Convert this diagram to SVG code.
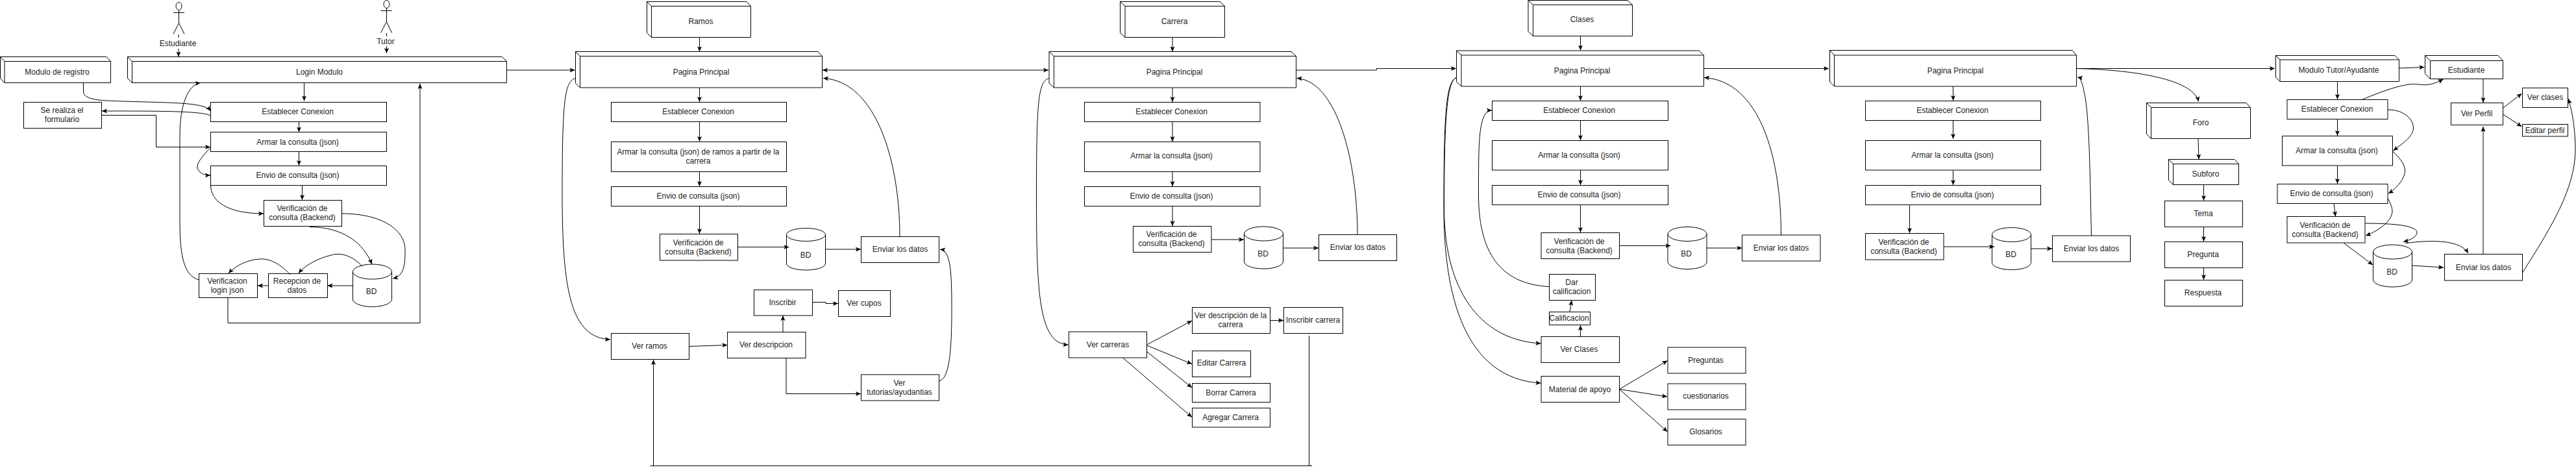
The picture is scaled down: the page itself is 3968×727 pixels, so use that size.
<svg xmlns="http://www.w3.org/2000/svg" width="3968" height="727" viewBox="0 0 3968 727">
<style>
text{font-family:"Liberation Sans",Arial,sans-serif;font-size:12px;fill:#222;text-anchor:middle}
rect,.c,ellipse{fill:#fff;stroke:#000;stroke-width:1}
.o{fill:none;stroke:#000;stroke-width:1}
#connectors path{fill:none;stroke:#000;stroke-width:1;marker-end:url(#a)}
#connectors path.n{marker-end:none}
#connectors path.b{marker-start:url(#a)}
</style>
<defs>
<marker id="a" markerUnits="userSpaceOnUse" markerWidth="10" markerHeight="10" refX="8" refY="4" orient="auto-start-reverse"><path d="M0,0.5 L8,4 L0,7.5 L1.75,4 Z" fill="#000"/></marker>
</defs>
<rect x="0" y="0" width="3968" height="727" style="stroke:none"/>

<g id="actor-estudiante"><ellipse cx="275.5" cy="9.5" rx="4.5" ry="6"/><path class="o" d="M267,19.5H284M275.5,15.5V35.5L267,52.5M275.5,35.5L284,52.5"/><text x="274" y="70.5">Estudiante</text></g>
<g id="actor-tutor"><ellipse cx="595.5" cy="6.5" rx="4.5" ry="6"/><path class="o" d="M586.5,16.5H603.5M595.5,12.5V33.5L586.5,50.5M595.5,33.5L603.5,50.5"/><text x="594" y="67.5">Tutor</text></g>

<g id="modulo-registro"><path class="c" d="M0.5,87.5H164L170.5,94.5V127.5H7L0.5,120.5Z"/><path class="o" d="M0.5,87.5L7,94.5H170.5M7,94.5V127.5"/><text x="88" y="114.5">Modulo de registro</text></g>
<g id="login"><path class="c" d="M196.5,87.5H773.5L780.5,94.5V127.5H203.5L196.5,120.5Z"/><path class="o" d="M196.5,87.5L203.5,94.5H780.5M203.5,94.5V127.5"/><text x="492" y="114.5">Login Modulo</text></g>
<g id="formulario"><rect x="36.5" y="157.5" width="120" height="40"/><text x="95.5" y="174">Se realiza el</text><text x="95.5" y="188">formulario</text></g>
<g id="l-establecer"><rect x="324.5" y="157.5" width="271" height="30"/><text x="458.5" y="175.5">Establecer Conexion</text></g>
<g id="l-armar"><rect x="324.5" y="203.5" width="271" height="30"/><text x="458.5" y="222.5">Armar la consulta (json)</text></g>
<g id="l-envio"><rect x="324.5" y="255.5" width="271" height="30"/><text x="458.5" y="273.5">Envio de consulta (json)</text></g>
<g id="l-verif"><rect x="406.5" y="308.5" width="120" height="40"/><text x="465.5" y="325">Verificación de</text><text x="465.5" y="339">consulta (Backend)</text></g>
<g id="l-bd"><path class="c" d="M543.5,418.5A30,11.5 0 0 1 603.5,418.5V461A30,11.5 0 0 1 543.5,461Z"/><path class="o" d="M543.5,418.5A30,11.5 0 0 0 603.5,418.5"/><text x="572" y="452.5">BD</text></g>
<g id="l-recepcion"><rect x="413.5" y="421.5" width="91" height="37"/><text x="457.5" y="437">Recepcion de</text><text x="457.5" y="451">datos</text></g>
<g id="l-verifjson"><rect x="306.5" y="421.5" width="90" height="37"/><text x="350" y="437">Verificacion</text><text x="350" y="451">login json</text></g>

<g id="ramos"><path class="c" d="M996.5,2.5H1150L1156.5,9.5V57.5H1003.5L996.5,50.5Z"/><path class="o" d="M996.5,2.5L1003.5,9.5H1156.5M1003.5,9.5V57.5"/><text x="1079.5" y="36.5">Ramos</text></g>
<g id="p1"><path class="c" d="M886.5,79.5H1260L1266.5,86.5V135H893.5L886.5,128Z"/><path class="o" d="M886.5,79.5L893.5,86.5H1266.5M893.5,86.5V135"/><text x="1080" y="114.5">Pagina Principal</text></g>
<g id="r-establecer"><rect x="941.5" y="157.5" width="270" height="30"/><text x="1075.5" y="175.5">Establecer Conexion</text></g>
<g id="r-armar"><rect x="941.5" y="218.5" width="270" height="46"/><text x="1075.5" y="238">Armar la consulta (json) de ramos a partir de la</text><text x="1075.5" y="252">carrera</text></g>
<g id="r-envio"><rect x="941.5" y="287.5" width="270" height="30"/><text x="1075.5" y="306">Envio de consulta (json)</text></g>
<g id="r-verif"><rect x="1016.5" y="360.5" width="120" height="40.5"/><text x="1075.5" y="378">Verificación de</text><text x="1075.5" y="392">consulta (Backend)</text></g>
<g id="r-bd"><path class="c" d="M1211.5,361.5A30,10 0 0 1 1271.5,361.5V406A30,10 0 0 1 1211.5,406Z"/><path class="o" d="M1211.5,361.5A30,10 0 0 0 1271.5,361.5"/><text x="1241" y="397">BD</text></g>
<g id="r-enviar"><rect x="1326.5" y="364.5" width="120" height="40"/><text x="1386.5" y="388">Enviar los datos</text></g>
<g id="r-inscribir"><rect x="1161.5" y="446.5" width="90" height="39.5"/><text x="1205.5" y="470">Inscribir</text></g>
<g id="r-cupos"><rect x="1291.5" y="447.5" width="80" height="40"/><text x="1331" y="471">Ver cupos</text></g>
<g id="r-ver"><rect x="941.5" y="513.5" width="120" height="40"/><text x="1000.5" y="537">Ver ramos</text></g>
<g id="r-desc"><rect x="1120.5" y="511.5" width="120.5" height="40"/><text x="1180" y="535">Ver descripcion</text></g>
<g id="r-tutorias"><rect x="1326.5" y="577" width="120" height="40"/><text x="1385.5" y="594">Ver</text><text x="1385.5" y="608">tutorias/ayudantias</text></g>

<g id="carrera"><path class="c" d="M1725.5,2.5H1879L1886.5,9.5V57.5H1733L1725.5,50.5Z"/><path class="o" d="M1725.5,2.5L1733,9.5H1886.5M1733,9.5V57.5"/><text x="1809" y="36.5">Carrera</text></g>
<g id="p2"><path class="c" d="M1616,79.5H1989L1996.5,86.5V135H1623.5L1616,128Z"/><path class="o" d="M1616,79.5L1623.5,86.5H1996.5M1623.5,86.5V135"/><text x="1809" y="114.5">Pagina Principal</text></g>
<g id="c-establecer"><rect x="1670.5" y="157.5" width="270.5" height="30"/><text x="1804.5" y="175.5">Establecer Conexion</text></g>
<g id="c-armar"><rect x="1670.5" y="218.5" width="270.5" height="46"/><text x="1804.5" y="244">Armar la consulta (json)</text></g>
<g id="c-envio"><rect x="1670.5" y="287.5" width="270.5" height="30"/><text x="1804.5" y="306">Envio de consulta (json)</text></g>
<g id="c-verif"><rect x="1745.5" y="348.5" width="120.5" height="40"/><text x="1804.5" y="364.5">Verificación de</text><text x="1804.5" y="378.5">consulta (Backend)</text></g>
<g id="c-bd"><path class="c" d="M1916.5,360A30,11 0 0 1 1976.5,360V403A30,11 0 0 1 1916.5,403Z"/><path class="o" d="M1916.5,360A30,11 0 0 0 1976.5,360"/><text x="1945.5" y="395">BD</text></g>
<g id="c-enviar"><rect x="2031.5" y="361.5" width="120" height="40"/><text x="2091.5" y="385">Enviar los datos</text></g>
<g id="c-ver"><rect x="1646.5" y="511" width="120" height="40"/><text x="1706.5" y="534.5">Ver carreras</text></g>
<g id="c-desc"><rect x="1836.5" y="473.5" width="120" height="40"/><text x="1895.5" y="490">Ver descripción de la</text><text x="1895.5" y="504">carrera</text></g>
<g id="c-inscribir"><rect x="1977.5" y="473.5" width="91" height="40"/><text x="2022.5" y="496.5">Inscribir carrera</text></g>
<g id="c-editar"><rect x="1836.5" y="540.5" width="90" height="40"/><text x="1881.5" y="563">Editar Carrera</text></g>
<g id="c-borrar"><rect x="1836.5" y="590.5" width="120" height="29"/><text x="1896" y="608.5">Borrar Carrera</text></g>
<g id="c-agregar"><rect x="1836.5" y="628.5" width="120" height="29.5"/><text x="1895.5" y="646.5">Agregar Carrera</text></g>

<g id="clases"><path class="c" d="M2354,0.5H2507L2514.5,7.5V55.5H2361.5L2354,48.5Z"/><path class="o" d="M2354,0.5L2361.5,7.5H2514.5M2361.5,7.5V55.5"/><text x="2437" y="34">Clases</text></g>
<g id="p3"><path class="c" d="M2243.5,78H2617L2624.5,85V133H2251L2243.5,126Z"/><path class="o" d="M2243.5,78L2251,85H2624.5M2251,85V133"/><text x="2437" y="112.5">Pagina Principal</text></g>
<g id="k-establecer"><rect x="2298.5" y="155.5" width="271" height="30"/><text x="2432.5" y="173.5">Establecer Conexion</text></g>
<g id="k-armar"><rect x="2298.5" y="216.5" width="271" height="45.5"/><text x="2432.5" y="242.5">Armar la consulta (json)</text></g>
<g id="k-envio"><rect x="2298.5" y="285.5" width="271" height="30"/><text x="2432.5" y="303.5">Envio de consulta (json)</text></g>
<g id="k-verif"><rect x="2374" y="358.5" width="120.5" height="40"/><text x="2432.5" y="375.5">Verificación de</text><text x="2432.5" y="389.5">consulta (Backend)</text></g>
<g id="k-bd"><path class="c" d="M2569,360.5A30,11 0 0 1 2629,360.5V403.5A30,11 0 0 1 2569,403.5Z"/><path class="o" d="M2569,360.5A30,11 0 0 0 2629,360.5"/><text x="2597.5" y="395">BD</text></g>
<g id="k-enviar"><rect x="2683.5" y="362" width="120.5" height="40"/><text x="2743.5" y="385.5">Enviar los datos</text></g>
<g id="k-dar"><rect x="2386.5" y="422.5" width="71" height="40"/><text x="2421" y="438.5">Dar</text><text x="2421" y="452.5">calificacion</text></g>
<g id="k-calif"><rect x="2386.5" y="480.5" width="63" height="20"/><text x="2417" y="494">Calificacion</text></g>
<g id="k-ver"><rect x="2374" y="518.5" width="120.5" height="40"/><text x="2432.5" y="542">Ver Clases</text></g>
<g id="k-material"><rect x="2374" y="579.5" width="120.5" height="40"/><text x="2433.5" y="603.5">Material de apoyo</text></g>
<g id="k-preguntas"><rect x="2569" y="535" width="120" height="40"/><text x="2627.5" y="558.5">Preguntas</text></g>
<g id="k-cuest"><rect x="2569" y="591" width="120" height="40"/><text x="2627.5" y="614">cuestionarios</text></g>
<g id="k-glosarios"><rect x="2569" y="645.5" width="120" height="40"/><text x="2627.5" y="668.5">Glosarios</text></g>

<g id="p4"><path class="c" d="M2818.5,77.5H3192L3198.5,85V133H2825.5L2818.5,126Z"/><path class="o" d="M2818.5,77.5L2825.5,85H3198.5M2825.5,85V133"/><text x="3012" y="112.5">Pagina Principal</text></g>
<g id="f-establecer"><rect x="2873.5" y="155.5" width="270" height="30"/><text x="3007.5" y="173.5">Establecer Conexion</text></g>
<g id="f-armar"><rect x="2873.5" y="216.5" width="270" height="45.5"/><text x="3007.5" y="242.5">Armar la consulta (json)</text></g>
<g id="f-envio"><rect x="2873.5" y="285.5" width="270" height="30"/><text x="3007.5" y="303.5">Envio de consulta (json)</text></g>
<g id="f-verif"><rect x="2873.5" y="359.5" width="120.5" height="40.5"/><text x="2932.5" y="376.5">Verificación de</text><text x="2932.5" y="390.5">consulta (Backend)</text></g>
<g id="f-bd"><path class="c" d="M3068.5,361.5A30,11 0 0 1 3128.5,361.5V404.5A30,11 0 0 1 3068.5,404.5Z"/><path class="o" d="M3068.5,361.5A30,11 0 0 0 3128.5,361.5"/><text x="3097.5" y="395.5">BD</text></g>
<g id="f-enviar"><rect x="3161.5" y="363" width="120" height="40"/><text x="3221.5" y="386.5">Enviar los datos</text></g>
<g id="foro"><path class="c" d="M3306.5,158.5H3460L3466.5,165.5V213.5H3313.5L3306.5,206.5Z"/><path class="o" d="M3306.5,158.5L3313.5,165.5H3466.5M3313.5,165.5V213.5"/><text x="3390" y="192.5">Foro</text></g>
<g id="subforo"><path class="c" d="M3340.5,245.5H3442L3448.5,252.5V284.5H3347.5L3340.5,277.5Z"/><path class="o" d="M3340.5,245.5L3347.5,252.5H3448.5M3347.5,252.5V284.5"/><text x="3397.5" y="271.5">Subforo</text></g>
<g id="tema"><rect x="3334.5" y="309.5" width="120" height="40"/><text x="3394" y="332.5">Tema</text></g>
<g id="pregunta"><rect x="3334.5" y="372.5" width="120" height="40"/><text x="3393.5" y="395.5">Pregunta</text></g>
<g id="respuesta"><rect x="3334.5" y="431.5" width="120" height="40"/><text x="3393.5" y="454.5">Respuesta</text></g>

<g id="tutor-modulo"><path class="c" d="M3505.5,85.5H3689L3695.5,92V125.5H3512L3505.5,119Z"/><path class="o" d="M3505.5,85.5L3512,92H3695.5M3512,92V125.5"/><text x="3602.5" y="111.5">Modulo Tutor/Ayudante</text></g>
<g id="t-estudiante"><path class="c" d="M3735.5,85.5H3848L3855.5,93.5V121.5H3743.5L3735.5,113.5Z"/><path class="o" d="M3735.5,85.5L3743.5,93.5H3855.5M3743.5,93.5V121.5"/><text x="3799" y="111.5">Estudiante</text></g>
<g id="t-establecer"><rect x="3523" y="153.5" width="155" height="30"/><text x="3600" y="171.5">Establecer Conexion</text></g>
<g id="t-armar"><rect x="3515.5" y="209.5" width="170" height="45.5"/><text x="3599.5" y="235.5">Armar la consulta (json)</text></g>
<g id="t-envio"><rect x="3508" y="283.5" width="170" height="30"/><text x="3591.5" y="301.5">Envio de consulta (json)</text></g>
<g id="t-verif"><rect x="3523" y="333.5" width="120" height="40.5"/><text x="3581.5" y="350.5">Verificación de</text><text x="3581.5" y="364.5">consulta (Backend)</text></g>
<g id="t-bd"><path class="c" d="M3655.5,388A30,11 0 0 1 3715.5,388V431A30,11 0 0 1 3655.5,431Z"/><path class="o" d="M3655.5,388A30,11 0 0 0 3715.5,388"/><text x="3684.5" y="422.5">BD</text></g>
<g id="t-enviar"><rect x="3765.5" y="391.5" width="120" height="40.5"/><text x="3825.5" y="415.5">Enviar los datos</text></g>
<g id="t-perfil"><rect x="3775.5" y="158.5" width="80" height="34"/><text x="3815" y="178.5">Ver Perfil</text></g>
<g id="t-clases"><rect x="3885.5" y="135.5" width="70" height="30"/><text x="3920.5" y="153.5">Ver clases</text></g>
<g id="t-editar"><rect x="3885.5" y="191.5" width="70" height="18.5"/><text x="3920" y="204.5">Editar perfil</text></g>

<g id="connectors">
<path class="n" d="M275,53V58"/><path d="M275,75V87.5"/>
<path class="n" d="M595.5,51V56"/><path d="M595.5,71V82"/>
<path d="M780.5,108H885.5"/>
<path d="M468.5,127.5V155.5"/>
<path d="M128.5,127.5V141C128.5,151 145,154 164.6,155C200,157 260,157 290,160C310,162 320,165 324.5,171"/>
<path d="M324.5,178C310,171 250,171 157,171"/>
<path d="M156.5,177.5H240.5V226.5H324"/>
<path d="M460.5,187.5V203.5"/>
<path d="M460.5,233.5V255"/>
<path d="M324.5,227C312,240 304,250 304,257C304,264 312,270 324,270"/>
<path d="M465.5,285.5V308"/>
<path d="M324.5,285.5C325,310 350,329 406,329"/>
<path d="M477,349.5C530,350 560,375 573,407"/>
<path d="M526.5,329C590,329 624,355 624,385C624,410 622,425 605,429"/>
<path d="M543.5,440H504.5"/>
<path d="M413.5,440H397"/>
<path d="M558,410.5C545,395 525,388 510,393C490,398 470,408 460,421"/>
<path d="M447,423C430,405 415,398 400,399C380,400 362,410 352,421"/>
<path d="M306.5,431C285,425 277,400 277,340V210C277,160 290,130 309,127.5"/>
<path d="M351,458.5V497.5H647V129"/>

<path d="M1077.5,57.5V79.5"/>
<path d="M1077.5,135V157"/>
<path class="b" d="M1267,108H1615"/>
<path d="M1386,364C1386,250 1350,125 1268,120.5"/>
<path d="M887,120.5C870,125 866,150 866,300C866,450 880,520 940,523"/>
<path d="M1077.5,187.5V218"/>
<path d="M1077.5,264.5V287"/>
<path d="M1077.5,317.5V360"/>
<path d="M1136.5,380.5H1215.5"/>
<path d="M1271.5,384H1326"/>
<path d="M1446.5,586.5C1462,585 1466,540 1466,480C1466,420 1465,386 1448,384"/>
<path d="M1061.5,533.5L1120.5,531.5"/>
<path d="M1206,511.5V486"/>
<path d="M1251.5,465.5H1272V467.5H1291"/>
<path d="M1211,551.5V606.5H1326"/>
<path class="n" d="M1001.5,717.5H2021"/>
<path d="M1006.5,717.5V554"/>
<path class="n" d="M2016.5,517V717.5"/>

<path d="M1806,57.5V79.5"/>
<path d="M1806,135V157"/>
<path d="M1806,187.5V218"/>
<path d="M1806,264.5V287"/>
<path d="M1806,317.5V348"/>
<path d="M1996.5,108H2120.5V105.5H2243"/>
<path d="M2091,361.5C2091,250 2060,125 1997.5,120.5"/>
<path d="M1616,120.5C1600,125 1596.5,150 1596.5,300C1596.5,450 1600,530 1645.5,531"/>
<path d="M1866,369H1916"/>
<path d="M1976.5,382H2031"/>
<path d="M1766.5,531L1836,494"/>
<path d="M1766.5,532L1836,560.5"/>
<path d="M1766.5,541.5L1836,597"/>
<path d="M1729.5,551L1836,642.5"/>
<path d="M1956.5,493.5H1977"/>

<path d="M2434.5,55.5V77.5"/>
<path d="M2434.5,133V155"/>
<path d="M2434.5,185.5V216"/>
<path d="M2434.5,262V285"/>
<path d="M2434.5,315.5V358"/>
<path d="M2494.5,378.5H2573.5"/>
<path d="M2629,382H2683.5"/>
<path d="M2624.5,105.5H2817"/>
<path d="M2386.5,441.5C2320,438 2277.5,400 2277.5,300C2277.5,220 2277,170 2298,170"/>
<path d="M2418,480.5L2421,462.5"/>
<path d="M2434.5,518.5V501"/>
<path d="M2243.5,119.5C2230,125 2224.5,170 2224.5,320C2224.5,460 2290,525 2373.5,529"/>
<path d="M2243.5,119.5C2228,125 2224,170 2224,320C2224,500 2280,585 2373.5,590"/>
<path d="M2743.5,362C2743.5,240 2710,125 2625,119.5"/>
<path d="M2494.5,599.5L2568.5,555.5"/>
<path d="M2494.5,599.5L2568,611"/>
<path d="M2494.5,599.5L2568.5,665"/>

<path d="M3008.5,133V155"/>
<path d="M3008.5,185.5V214"/>
<path d="M3008.5,262V285"/>
<path d="M2941.5,315.5V359"/>
<path d="M2994,380H3072"/>
<path d="M3128.5,383H3161"/>
<path d="M3221.5,363C3220,300 3219,190 3212,150C3208,130 3206,120 3200,119"/>
<path d="M3198.5,105.5H3504"/>
<path d="M3198.5,105.5C3300,108 3380,125 3386.5,156.5"/>
<path d="M3386,213.5L3387,245.5"/>
<path d="M3394.5,284.5V309"/>
<path d="M3394.5,349.5V372"/>
<path d="M3394.5,412.5V431"/>

<path d="M3695.5,105L3734.5,103.5"/>
<path d="M3600.5,125.5V153"/>
<path d="M3600.5,183.5V209"/>
<path d="M3600.5,255V283"/>
<path d="M3595,313.5L3597.5,333.5"/>
<path d="M3638.5,153.5C3670,140 3700,130 3717.5,129.5C3730,129.5 3740,135 3763.5,122"/>
<path d="M3678,169C3705,169 3717.5,185 3717.5,197C3717.5,210 3700,222 3686.5,232"/>
<path d="M3685.5,233C3695,242 3704.5,252 3704.5,263C3704.5,275 3692,290 3679,298"/>
<path d="M3678,305.5C3682,312 3685,320 3685,325C3685,340 3665,355 3644,363"/>
<path d="M3643,344C3690,344 3723,348 3723,358C3723,365 3712,370 3702,372.5"/>
<path d="M3705.5,374.5C3750,369 3790,370 3802,390"/>
<path d="M3610,374L3655,408"/>
<path d="M3715.5,409L3764,412"/>
<path d="M3825,121.5V158"/>
<path d="M3825,391.5V195"/>
<path d="M3855.5,166.5L3884.5,144"/>
<path d="M3855.5,176L3884.5,195"/>
<path d="M3885.5,420C3930,350 3967,290 3967,230C3967,200 3962,170 3956,152"/>
</g>
</svg>
